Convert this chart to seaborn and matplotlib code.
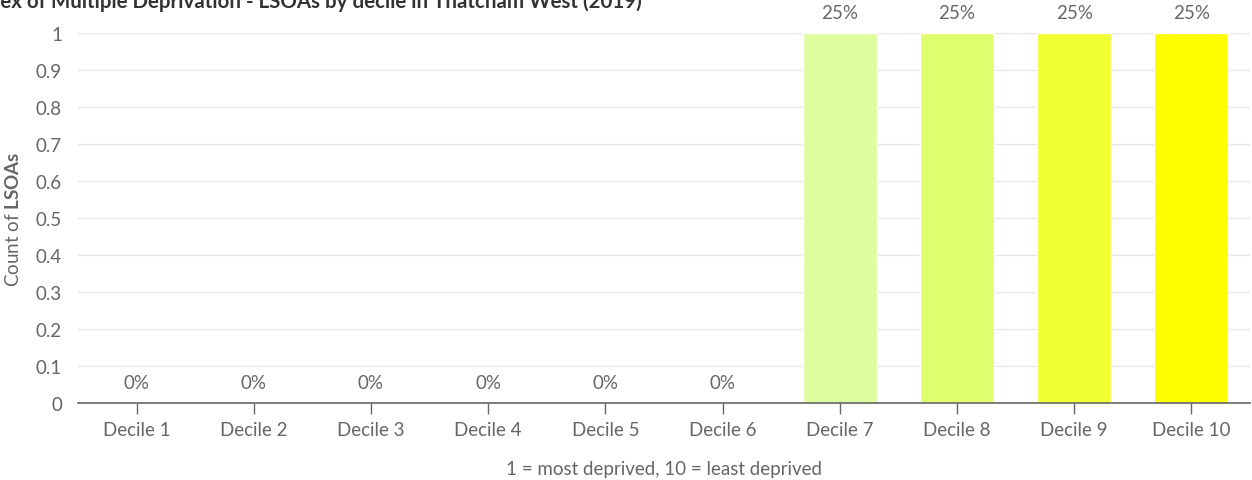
import matplotlib
matplotlib.use("Agg")
import matplotlib.pyplot as plt
import seaborn as sns
import pandas as pd

# Data
deciles = ["Decile 1", "Decile 2", "Decile 3", "Decile 4", "Decile 5",
           "Decile 6", "Decile 7", "Decile 8", "Decile 9", "Decile 10"]
counts = [0, 0, 0, 0, 0, 0, 1, 1, 1, 1]
share_labels = ["0%", "0%", "0%", "0%", "0%", "0%", "25%", "25%", "25%", "25%"]
colours = ["#1a9641", "#52b151", "#8acc62", "#b8e186", "#d1ec9c",
           "#d9f0a3", "#ddfd9e", "#e0ff6f", "#f0ff32", "#ffff00"]
y_ticks = [0, 0.1, 0.2, 0.3, 0.4, 0.5, 0.6, 0.7, 0.8, 0.9, 1]
y_tick_labels = ["0", "0.1", "0.2", "0.3", "0.4", "0.5", "0.6", "0.7", "0.8", "0.9", "1"]

sns.set_theme(style="white")
plt.rcParams["font.family"] = ["Lato", "DejaVu Sans"]
plt.rcParams["mathtext.fontset"] = "custom"
plt.rcParams["mathtext.rm"] = "Lato"
plt.rcParams["mathtext.bf"] = "Lato:bold"

TEXT = "#666666"
FS = 13.5

df = pd.DataFrame({"decile": deciles, "count": counts})

fig = plt.figure(figsize=(12.52, 4.81), dpi=100)
W, H = 1252, 481
ax = fig.add_axes([78 / W, (H - 404) / H, (1250 - 78) / W, (404 - 34) / H])

sns.barplot(data=df, x="decile", y="count", hue="decile", palette=colours,
            order=deciles, hue_order=deciles, legend=False, width=0.63,
            saturation=1, ax=ax)

ax.set_xlim(-0.5, len(deciles) - 0.5)
ax.set_ylim(0, 1)
ax.set_yticks(y_ticks)
ax.set_yticklabels(y_tick_labels)
ax.yaxis.grid(True, color="#e6e6e6", linewidth=1)
ax.set_axisbelow(True)

for side in ["top", "right", "left"]:
    ax.spines[side].set_visible(False)
ax.spines["bottom"].set_color("#666666")
ax.spines["bottom"].set_linewidth(1.2)

ax.tick_params(axis="x", length=8, width=1, color="#666666", colors=TEXT,
               labelsize=FS, pad=5, direction="out", bottom=True)
ax.tick_params(axis="y", length=0, colors=TEXT, labelsize=FS, pad=11.5)

# Value labels above each bar
for i, (v, lab) in enumerate(zip(counts, share_labels)):
    ax.annotate(lab, (i, v), xytext=(0, 15), textcoords="offset points",
                ha="center", va="center", color=TEXT, fontsize=FS,
                annotation_clip=False)

ax.set_xlabel("1 = most deprived, 10 = least deprived", color=TEXT,
              fontsize=FS, labelpad=16)
ax.set_ylabel(r"Count of $\bf{LSOAs}$", color=TEXT, fontsize=FS, labelpad=10)

fig.text(642 / W, 1 - 8 / H,
         "Index of Multiple Deprivation - LSOAs by decile in Thatcham West (2019)",
         ha="right", va="baseline", fontsize=14.8, fontweight="bold", color="#333333")

fig.savefig("out.png", dpi=100)
